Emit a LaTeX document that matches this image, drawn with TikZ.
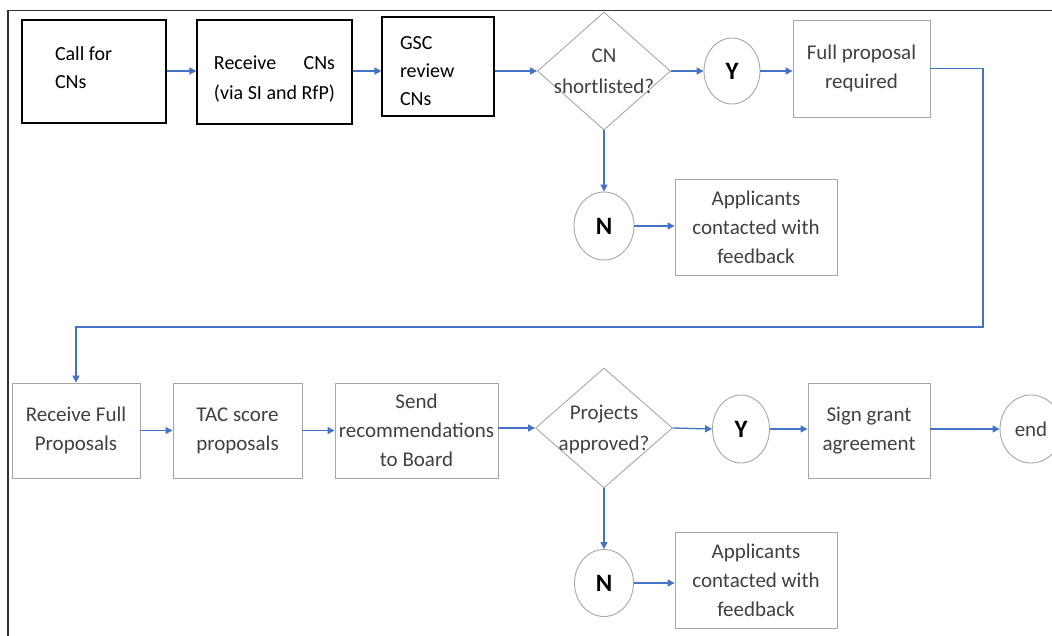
\documentclass[tikz,border=0pt]{standalone}
\usepackage{fontspec}
\setmainfont{Carlito}
\usepackage{calc}
\usetikzlibrary{shapes.geometric,arrows.meta}
\definecolor{arrblue}{HTML}{4472C4}
\definecolor{boxgray}{HTML}{A6A6A6}
\definecolor{txtgray}{HTML}{404040}
\newcommand{\dtext}[1]{\makebox[0pt]{\smash{\raisebox{-6pt}{\begin{tabular}{@{}c@{}}#1\end{tabular}}}}}
\newcommand{\ltext}[3]{\makebox[#1][l]{\smash{\raisebox{#2}{\begin{tabular}{@{}l@{}}#3\end{tabular}}}}}
\begin{document}
\begin{tikzpicture}[x=1pt,y=-1pt,
  bbox/.style={draw=black, line width=1.1pt, text=black, inner sep=0pt,
    font=\fontsize{20}{28}\selectfont},
  gbox/.style={draw=boxgray, line width=0.9pt, text=txtgray, inner sep=0pt, align=center,
    font=\fontsize{21}{29}\selectfont},
  dec/.style={shape=diamond, draw=boxgray, line width=0.9pt, text=txtgray, inner sep=0pt,
    font=\fontsize{21}{31}\selectfont},
  yn/.style={shape=ellipse, draw=boxgray, line width=0.9pt, text=black, inner sep=0pt,
    font=\fontsize{25}{28}\selectfont\bfseries},
  arr/.style={draw=arrblue, line width=1.3pt, -{Triangle[length=7pt,width=7pt]}}
]
\useasboundingbox (0,0) rectangle (1052,635);
\clip (0,0) rectangle (1052,635);
% outer frame (cropped)
\draw[line width=1.5pt, black!80] (8,640) -- (8,10.5) -- (1060,10.5);

% row 1
\node[bbox, minimum width=144pt, minimum height=103pt] (call) at (94,71.5) {\ltext{78pt}{-3pt}{Call for\\CNs}};
\node[bbox, minimum width=155pt, minimum height=104pt, font=\fontsize{20}{30}\selectfont] (recv) at (274.5,72)
  {\smash{\raisebox{-12pt}{\begin{tabular}{@{}c@{}}\makebox[\widthof{(via SI and RfP)}][s]{Receive\hfill CNs}\\(via SI and RfP)\end{tabular}}}};
\node[bbox, minimum width=112pt, minimum height=99pt] (gsc) at (438,66.5) {\ltext{76pt}{-11pt}{GSC\\review\\CNs}};
\node[dec, minimum width=133pt, minimum height=118pt] (d1) at (604,71) {\dtext{CN\\shortlisted?}};
\node[yn, minimum width=56pt, minimum height=66pt] (y1) at (732,71) {Y};
\node[gbox, minimum width=137pt, minimum height=97pt] (full) at (861.5,68.5) {Full proposal\\required};
\node[yn, minimum width=60pt, minimum height=68pt] (n1) at (604,226) {N};
\node[gbox, minimum width=162pt, minimum height=96pt] (app1) at (756,227) {Applicants\\contacted with\\feedback};

% row 2
\node[gbox, minimum width=128pt, minimum height=95pt] (rfp) at (76,430.5) {Receive Full\\Proposals};
\node[gbox, minimum width=129pt, minimum height=95pt] (tac) at (237.5,430.5) {TAC score\\proposals};
\node[gbox, minimum width=163pt, minimum height=95pt] (send) at (416.5,430.5) {Send\\recommendations\\to Board};
\node[dec, minimum width=137pt, minimum height=120pt] (d2) at (604,428) {\dtext{Projects\\approved?}};
\node[yn, minimum width=57pt, minimum height=68pt] (y2) at (741,429) {Y};
\node[gbox, minimum width=122pt, minimum height=95pt] (sign) at (869,430.5) {Sign grant\\agreement};
\node[shape=ellipse, draw=boxgray, line width=0.9pt, text=txtgray, inner sep=0pt,
  font=\fontsize{21}{29}\selectfont, minimum width=62pt, minimum height=68pt] (end) at (1031,429) {end};
\node[yn, minimum width=59pt, minimum height=67pt] (n2) at (604,583) {N};
\node[gbox, minimum width=162pt, minimum height=96pt] (app2) at (756,580) {Applicants\\contacted with\\feedback};

\coordinate (turn) at (983,327);

% connectors row 1
\draw[arr] (call.east |- d1.west) -- (recv.west |- d1.west);
\draw[arr] (recv.east |- d1.west) -- (gsc.west |- d1.west);
\draw[arr] (gsc.east |- d1.west) -- (d1.west);
\draw[arr] (d1.east) -- (y1.west);
\draw[arr] (y1.east) -- (full.west |- y1.east);
\draw[arr] (d1.south) -- (n1.north);
\draw[arr] (n1.east) -- (n1.east -| app1.west);
\draw[arr] (full.east) -| (turn) -| (rfp.north);

% connectors row 2
\draw[arr] (rfp.east) -- (tac.west);
\draw[arr] (tac.east) -- (send.west);
\draw[arr] (send.east |- d2.west) -- (d2.west);
\draw[arr] (d2.east) -- (y2.west);
\draw[arr] (y2.east) -- (sign.west |- y2.east);
\draw[arr] (sign.east |- end.west) -- (end.west);
\draw[arr] (d2.south) -- (n2.north);
\draw[arr] (n2.east) -- (n2.east -| app2.west);
\end{tikzpicture}
\end{document}
